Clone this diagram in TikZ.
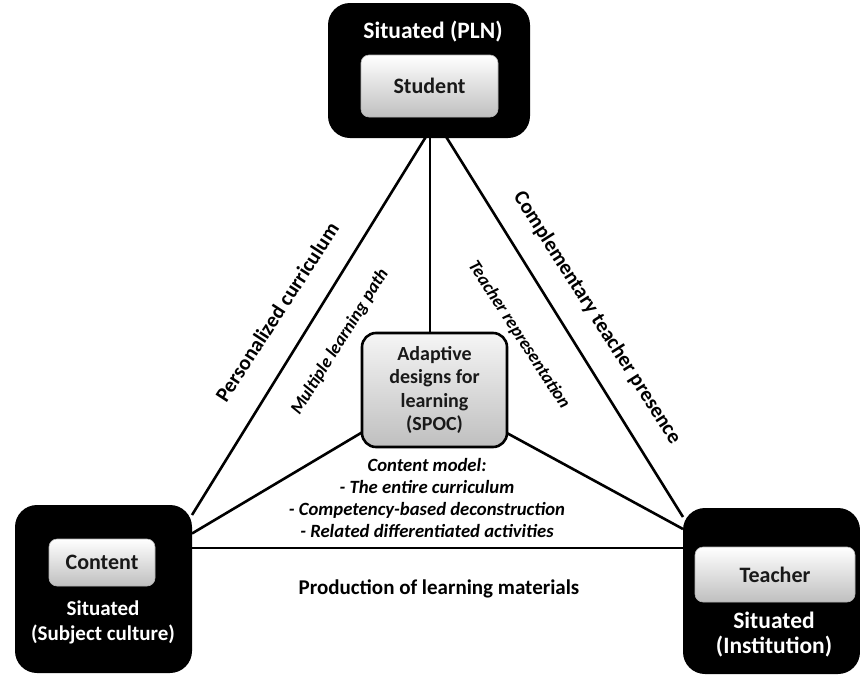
\documentclass[tikz,border=0pt]{standalone}
\usepackage{fontspec}
\setmainfont{Carlito}
\usetikzlibrary{calc}
\pgfdeclarelayer{bg}
\pgfsetlayers{bg,main}
\begin{document}
\begin{tikzpicture}[x=1pt,y=-1pt,
  outerbox/.style={fill=black, rounded corners=22pt, inner sep=0pt},
  innerbox/.style={top color=white, bottom color=gray!50, draw=gray!60, line width=0.6pt,
    rounded corners=8pt, inner sep=0pt, text=black!90, font=\fontsize{22}{24}\selectfont\bfseries},
  spocbox/.style={top color=gray!8, bottom color=gray!50, draw=black, line width=2.6pt,
    rounded corners=14pt, inner sep=0pt, align=center, text=black!90,
    font=\fontsize{20}{23.3}\selectfont\bfseries},
  wlabel/.style={text=white, align=center, font=\fontsize{21}{25}\selectfont\bfseries},
  edge/.style={line width=2.6pt, draw=black},
  elabel/.style={font=\fontsize{21}{24}\selectfont\bfseries, inner sep=0pt},
  ilabel/.style={font=\fontsize{18}{20}\selectfont\bfseries\itshape, inner sep=0pt}
]
\useasboundingbox (0,0) rectangle (860,675);

% outer boxes
\node[outerbox, minimum width=202pt, minimum height=135pt] (top) at (429,70.5) {};
\node[outerbox, minimum width=177pt, minimum height=168pt] (left) at (103.5,589) {};
\node[outerbox, minimum width=177pt, minimum height=166pt] (right) at (771.5,591) {};

% inner boxes
\node[innerbox, minimum width=137pt, minimum height=62pt] (student) at (429.5,86) {Student};
\node[innerbox, minimum width=106pt, minimum height=47pt] (content) at (102,562.5) {Content};
\node[innerbox, minimum width=160pt, minimum height=55pt] (teacher) at (775,574.5) {Teacher};

% white labels
\node[wlabel, font=\fontsize{23.5}{26}\selectfont\bfseries] (tl) at (433,32) {Situated (PLN)};
\node[wlabel] (ll) at (103,622) {Situated\\(Subject culture)};
\node[wlabel, font=\fontsize{23.5}{25}\selectfont\bfseries] (rl) at (774,635) {Situated\\(Institution)};

% SPOC
\node[spocbox, minimum width=145pt, minimum height=114pt] (spoc) at (434.5,390)
  {Adaptive\\designs for\\learning\\(SPOC)};

% connector end points
\coordinate (apexL) at (427,135);
\coordinate (apexR) at (445,135);
\coordinate (leftT) at (192,515);
\coordinate (rightT) at (683,517);
\coordinate (spocL) at (366,430);
\coordinate (spocR) at (505,432);
\coordinate (leftS) at (192,533.5);
\coordinate (rightS) at (683,529);
\coordinate (leftB) at (192,548);
\coordinate (rightB) at (683,548);

\begin{pgfonlayer}{bg}
\draw[edge] (top.south -| 430,0) -- (spoc.north -| 430,0);
\draw[edge] (apexL) -- (leftT);
\draw[edge] (apexR) -- (rightT);
\draw[edge] (spocL) -- (leftS);
\draw[edge] (spocR) -- (rightS);
\draw[edge] (leftB) -- (rightB);
\end{pgfonlayer}

% edge labels
\node[elabel, rotate=57] (pc) at (277,312) {Personalized curriculum};
\node[ilabel, rotate=58] (mlp) at (340,342) {Multiple learning path};
\node[ilabel, rotate=-57] (tr) at (519,335) {Teacher representation};
\node[elabel, rotate=-57.5] (ctp) at (597,318) {Complementary teacher presence};
\node[align=center, font=\fontsize{18.7}{22.3}\selectfont\bfseries\itshape] (cm) at (427,498)
  {Content model:\\- The entire curriculum\\- Competency-based deconstruction\\- Related differentiated activities};
\node[elabel] (plm) at (439,589) {Production of learning materials};
\end{tikzpicture}
\end{document}
